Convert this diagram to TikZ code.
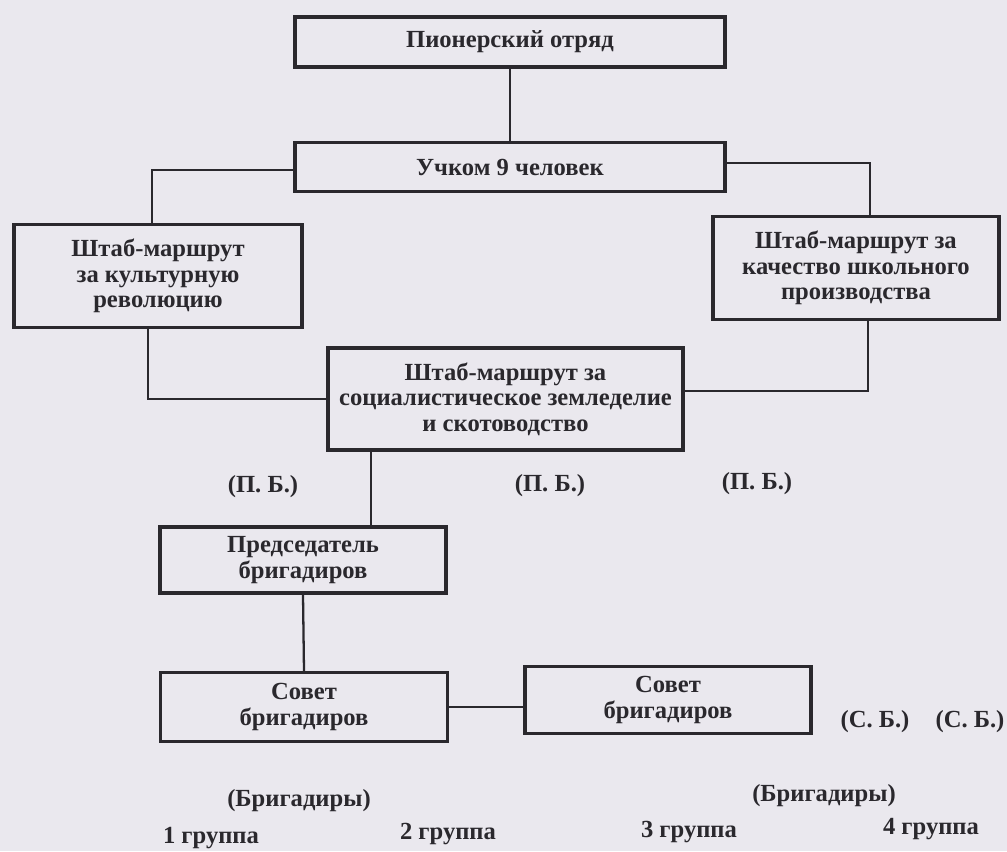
\documentclass[tikz,border=0pt]{standalone}
\usepackage{fontspec}
\setmainfont{Liberation Serif}
\usepackage{xcolor}
\usepackage{tikz}
\usetikzlibrary{positioning, calc}
\definecolor{paper}{RGB}{234,232,238}
\definecolor{ink}{RGB}{42,40,45}
\tikzset{
    block/.style={
        rectangle,
        draw=ink,
        line width=1.8pt,
        align=center,
        inner sep=2pt,
        font=\fontsize{14}{14.5}\selectfont\bfseries,
    },
    note/.style={
        text=ink,
        font=\fontsize{14}{14.5}\selectfont\bfseries,
    },
    link/.style={
        draw=ink,
        line width=1.3pt,
    },
}

\begin{document}
\begin{tikzpicture}[text=ink]
      \fill[paper] (0,0) rectangle (20.14,-17.02);
      \useasboundingbox (0,0) rectangle (20.14,-17.02);

      \node [block, minimum width=8.6cm, minimum height=1cm] (Otryad) at (10.2,-0.84) {Пионерский отряд};
      \node [block, minimum width=8.6cm, minimum height=0.98cm] (Uchkom) at (10.2,-3.34) {Учком 9 человек};
      \node [block, minimum width=5.76cm, minimum height=2.06cm] (ShtabKult) at (3.16,-5.52) {Штаб-маршрут\\за культурную\\революцию};
      \node [block, minimum width=5.72cm, minimum height=2.06cm] (ShtabProizv) at (17.12,-5.36) {Штаб-маршрут за\\качество школьного\\производства};
      \node [block, minimum width=7.1cm, minimum height=2.04cm] (ShtabZeml) at (10.11,-7.98) {Штаб-маршрут за\\социалистическое земледелие\\и скотоводство};
      \node [block, minimum width=5.72cm, minimum height=1.32cm] (Predsed) at (6.06,-11.2) {Председатель\\бригадиров};
      \node [block, minimum width=5.74cm, minimum height=1.38cm] (Sovet1) at (6.08,-14.14) {Совет\\бригадиров};
      \node [block, minimum width=5.72cm, minimum height=1.34cm] (Sovet2) at (13.36,-14.0) {Совет\\бригадиров};

      \node [note] (PB1) at (5.26,-9.74) {(П. Б.)};
      \node [note] (PB2) at (11.0,-9.72) {(П. Б.)};
      \node [note] (PB3) at (15.14,-9.68) {(П. Б.)};
      \node [note] (SB1) at (17.5,-14.44) {(С. Б.)};
      \node [note] (SB2) at (19.4,-14.44) {(С. Б.)};
      \node [note] (Brig1) at (5.98,-16.02) {(Бригадиры)};
      \node [note] (Brig2) at (16.48,-15.92) {(Бригадиры)};
      \node [note] (Gr1) at (4.22,-16.76) {1 группа};
      \node [note] (Gr2) at (8.96,-16.68) {2 группа};
      \node [note] (Gr3) at (13.78,-16.64) {3 группа};
      \node [note] (Gr4) at (18.62,-16.58) {4 группа};

      \path[link] (Otryad.south) -- (Uchkom.north);
      \path[link] ([yshift=-0.06cm]Uchkom.west) -| ([xshift=-0.12cm]ShtabKult.north);
      \path[link] ([yshift=0.08cm]Uchkom.east) -| ([xshift=0.28cm]ShtabProizv.north);
      \path[link] ([xshift=-0.2cm]ShtabKult.south) |- (ShtabZeml.west);
      \path[link] ([xshift=0.24cm]ShtabProizv.south) |- ([yshift=0.16cm]ShtabZeml.east);
      \path[link] ([xshift=1.36cm]Predsed.north |- ShtabZeml.south) -- ([xshift=1.36cm]Predsed.north);
      \path[link] (Predsed.south) -- (Sovet1.north);
      \path[link] (Sovet1.east) -- (Sovet1.east -| Sovet2.west);
\end{tikzpicture}
\end{document}
